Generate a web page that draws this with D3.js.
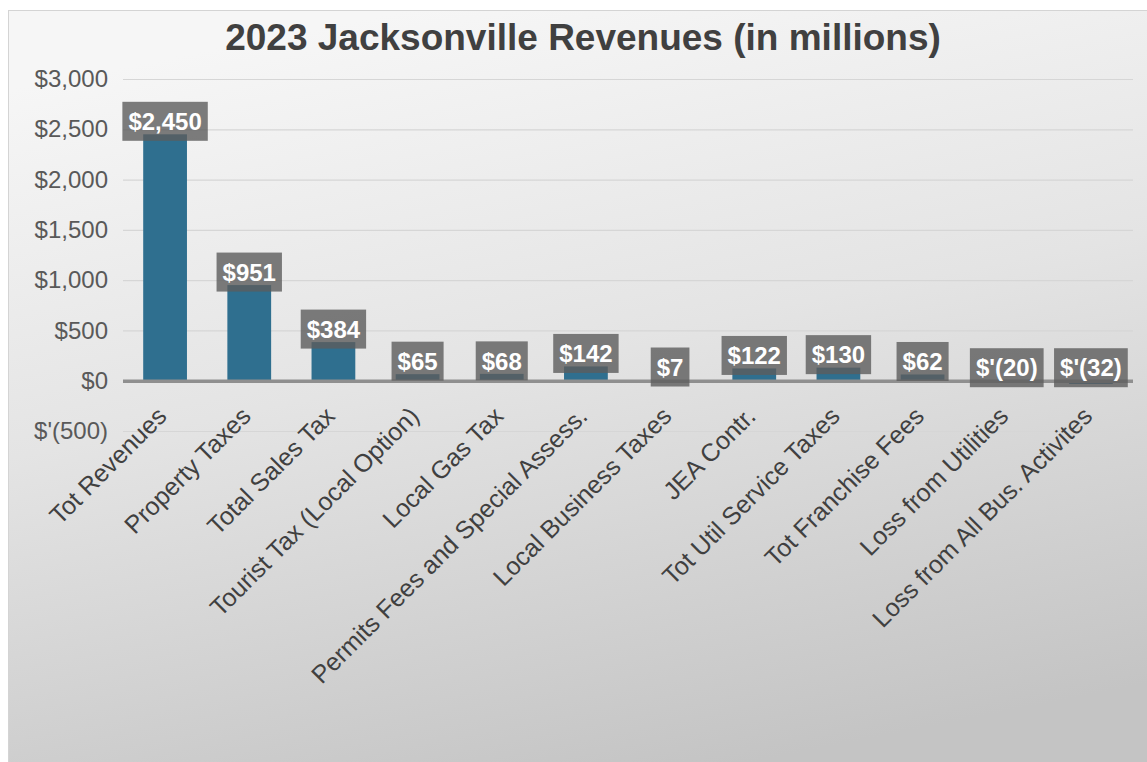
<!DOCTYPE html>
<html>
<head>
<meta charset="utf-8">
<script src="https://cdn.jsdelivr.net/npm/d3@7"></script>
<style>
  html, body { margin: 0; padding: 0; background: #ffffff; }
  svg { display: block; }
</style>
</head>
<body>
<svg id="chart" width="1147" height="762"></svg>
<script>
// Revenue categories and amounts (USD millions)
const categories = [
  "Tot Revenues",
  "Property Taxes",
  "Total Sales Tax",
  "Tourist Tax (Local Option)",
  "Local Gas Tax",
  "Permits Fees and Special Assess.",
  "Local Business Taxes",
  "JEA Contr.",
  "Tot Util Service Taxes",
  "Tot Franchise Fees",
  "Loss from Utilities",
  "Loss from All Bus. Activites"
];
const revenues = [2450, 951, 384, 65, 68, 142, 7, 122, 130, 62, -20, -32];
const yTicks = [-500, 0, 500, 1000, 1500, 2000, 2500, 3000];
const chartTitle = "2023 Jacksonville Revenues (in millions)";

const W = 1147, H = 762;
const svg = d3.select("#chart");

// Chart area background with soft gray gradient
const defs = svg.append("defs");
const grad = defs.append("linearGradient")
  .attr("id", "bg").attr("x1", "0.35").attr("y1", "0").attr("x2", "0.65").attr("y2", "1");
grad.append("stop").attr("offset", "0").attr("stop-color", "#f6f6f6");
grad.append("stop").attr("offset", "0.45").attr("stop-color", "#e4e4e4");
grad.append("stop").attr("offset", "1").attr("stop-color", "#c4c4c4");

svg.append("rect")
  .attr("x", 8.5).attr("y", 10.5).attr("width", W - 8).attr("height", H - 10)
  .attr("fill", "url(#bg)").attr("stroke", "#d4d4d4").attr("stroke-width", 1);

const plot = { left: 123, right: 1133, top: 79, bottom: 431 };

const x = d3.scaleBand()
  .domain(categories)
  .range([plot.left, plot.right])
  .paddingInner(0.48)
  .paddingOuter(0.24);

const y = d3.scaleLinear()
  .domain([-500, 3000])
  .range([plot.bottom, plot.top]);

const fmt = d3.format(",");
const money = v => v < 0 ? "$'(" + fmt(-v) + ")" : "$" + fmt(v);

const font = "'Liberation Sans', Arial, sans-serif";

// Title
svg.append("text")
  .attr("x", 583).attr("y", 50)
  .attr("text-anchor", "middle")
  .attr("font-family", font)
  .attr("font-weight", "bold")
  .attr("font-size", 37)
  .attr("fill", "#404040")
  .text(chartTitle);

// Horizontal gridlines
svg.append("g")
  .selectAll("line")
  .data(yTicks.filter(t => t !== 0))
  .join("line")
  .attr("x1", plot.left).attr("x2", plot.right)
  .attr("y1", d => y(d) + 0.5).attr("y2", d => y(d) + 0.5)
  .attr("stroke", "#d6d6d6").attr("stroke-width", 1.2);

// Y axis labels
const yAxis = d3.axisLeft(y).tickValues(yTicks).tickSize(0).tickPadding(0)
  .tickFormat(money);
const yg = svg.append("g")
  .attr("transform", `translate(${plot.left - 15},0)`)
  .call(yAxis);
yg.select(".domain").remove();
yg.selectAll("text")
  .attr("font-family", font)
  .attr("font-size", 24)
  .attr("fill", "#595959");

// Bars
svg.append("g")
  .selectAll("rect")
  .data(revenues)
  .join("rect")
  .attr("x", (d, i) => x(categories[i]))
  .attr("width", x.bandwidth())
  .attr("y", d => y(Math.max(d, 0)))
  .attr("height", d => Math.abs(y(d) - y(0)))
  .attr("fill", "#2f6f8f");

// Zero baseline
svg.append("line")
  .attr("x1", plot.left).attr("x2", plot.right)
  .attr("y1", y(0) + 0.5).attr("y2", y(0) + 0.5)
  .attr("stroke", "#8f8f8f").attr("stroke-width", 3.5);

// Category labels, rotated 45 degrees
const xg = svg.append("g")
  .attr("transform", `translate(0,${y(0)})`)
  .call(d3.axisBottom(x).tickSize(0).tickPadding(0));
xg.select(".domain").remove();
xg.selectAll("text")
  .attr("font-family", font)
  .attr("font-size", 25)
  .attr("fill", "#404040")
  .attr("text-anchor", "end")
  .attr("dy", 0)
  .attr("transform", "translate(3,37) rotate(-45)");

// Value labels in gray boxes
const lg = svg.append("g")
  .selectAll("g")
  .data(revenues)
  .join("g")
  .attr("transform", (d, i) =>
    `translate(${x(categories[i]) + x.bandwidth() / 2},${y(Math.max(d, 0)) - 13})`);

lg.append("text")
  .attr("text-anchor", "middle")
  .attr("dy", "0.36em")
  .attr("font-family", font)
  .attr("font-weight", "bold")
  .attr("font-size", 24)
  .attr("fill", "#ffffff")
  .text(d => money(d));

lg.each(function () {
  const g = d3.select(this);
  const w = g.select("text").node().getComputedTextLength();
  g.insert("rect", "text")
    .attr("x", -w / 2 - 6).attr("y", -19.5)
    .attr("width", w + 12).attr("height", 39)
    .attr("fill", "rgba(92,92,92,0.8)");
});
</script>
</body>
</html>
